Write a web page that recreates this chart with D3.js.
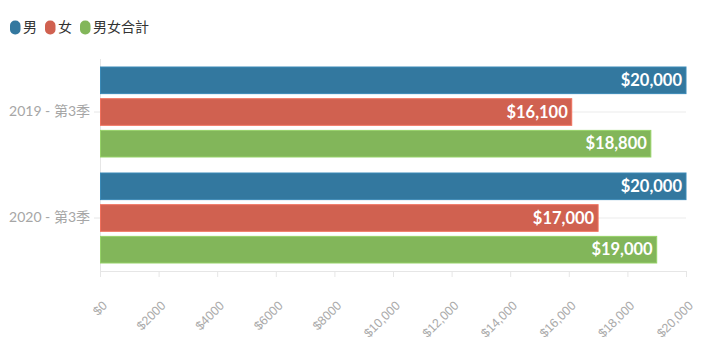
<!DOCTYPE html>
<html><head><meta charset="utf-8">
<script src="https://cdn.jsdelivr.net/npm/d3@7"></script>
<style>
body{margin:0;background:#fff;}
svg{display:block;font-family:Lato,"Noto Sans CJK TC",sans-serif;}
</style></head>
<body>
<svg id="c" width="711" height="356"></svg>
<script>
const categories = ["2019 - 第3季", "2020 - 第3季"];
const seriesNames = ["男", "女", "男女合計"];
const seriesColors = ["#33789f", "#d06150", "#82b65a"];
const valuesMale = [20000, 20000];
const valuesFemale = [16100, 17000];
const valuesTotal = [18800, 19000];
const xTicks = [0,2000,4000,6000,8000,10000,12000,14000,16000,18000,20000];

const seriesValues = [valuesMale, valuesFemale, valuesTotal];
const svg = d3.select("#c");
const m = {l:100, r:25, t:59, b:85};
const W = 711, H = 356;
const x = d3.scaleLinear().domain([0,20000]).range([m.l, W-m.r]);
const y0 = d3.scaleBand().domain(categories).range([m.t, H-m.b]).padding(0);
const bw0 = y0.bandwidth();
const y1 = d3.scaleBand().domain(seriesNames).range([8, bw0-8]).paddingInner(0.16).paddingOuter(0);

// horizontal gridlines at category centers
svg.append("g").selectAll("line").data(categories).join("line")
  .attr("x1", m.l).attr("x2", W-m.r)
  .attr("y1", d=>y0(d)+bw0/2).attr("y2", d=>y0(d)+bw0/2)
  .attr("stroke","#ebebeb").attr("stroke-width",1);

// y axis
const ya = svg.append("g").attr("transform",`translate(${m.l},0)`)
  .call(d3.axisLeft(y0).tickSize(6).tickPadding(4));
ya.select(".domain").attr("stroke","#e6e6e6").attr("d",`M0.5,${m.t}V${H-m.b}`);
ya.selectAll(".tick line").attr("stroke","#e6e6e6");
ya.selectAll("text").attr("fill","#a6a6a6").attr("font-size","14px").attr("font-family","Lato,'Noto Sans CJK TC',sans-serif");

// x axis
const xa = svg.append("g").attr("transform",`translate(0,${H-m.b})`)
  .call(d3.axisBottom(x).tickValues(xTicks).tickSize(6)
    .tickFormat(d => d>=10000 ? "$"+d3.format(",")(d) : "$"+d));
xa.select(".domain").attr("stroke","#e6e6e6");
xa.selectAll(".tick line").attr("stroke","#e6e6e6");
xa.selectAll("text").attr("fill","#aaa").attr("font-size","12.5px")
  .attr("text-anchor","end").attr("dy",null).attr("dominant-baseline","middle")
  .attr("transform","translate(5,33) rotate(-45)").attr("y",0).attr("x",0);

// bars
const rows = [];
categories.forEach((c,i)=>seriesNames.forEach((s,j)=>rows.push({c,s,j,v:seriesValues[j][i]})));
const bars = svg.append("g");
bars.selectAll("rect").data(rows).join("rect")
  .attr("x", x(0)+0.5)
  .attr("y", d=>y0(d.c)+y1(d.s))
  .attr("width", d=>x(d.v)-x(0)-0.5)
  .attr("height", y1.bandwidth())
  .attr("fill", d=>seriesColors[d.j])
  .attr("stroke", d=>d3.color(seriesColors[d.j]).brighter(0.4))
  .attr("stroke-width",1);
bars.selectAll("text").data(rows).join("text")
  .attr("x", d=>x(d.v)-4)
  .attr("y", d=>y0(d.c)+y1(d.s)+y1.bandwidth()/2)
  .attr("dy","0.35em").attr("text-anchor","end")
  .attr("fill","#fff").attr("font-weight","bold").attr("font-size","16.5px")
  .text(d=>"$"+d3.format(",")(d.v));

// legend
const lg = svg.append("g");
const lx = [10, 45, 80];
seriesNames.forEach((s,j)=>{
  lg.append("rect").attr("x",lx[j]).attr("y",20.5).attr("width",10.5).attr("height",14)
    .attr("rx",5).attr("fill",seriesColors[j]);
  lg.append("text").attr("x",lx[j]+13).attr("y",27.5).attr("dy","0.35em")
    .attr("font-size","14px").attr("fill","#333").text(s);
});
</script>
</body></html>
